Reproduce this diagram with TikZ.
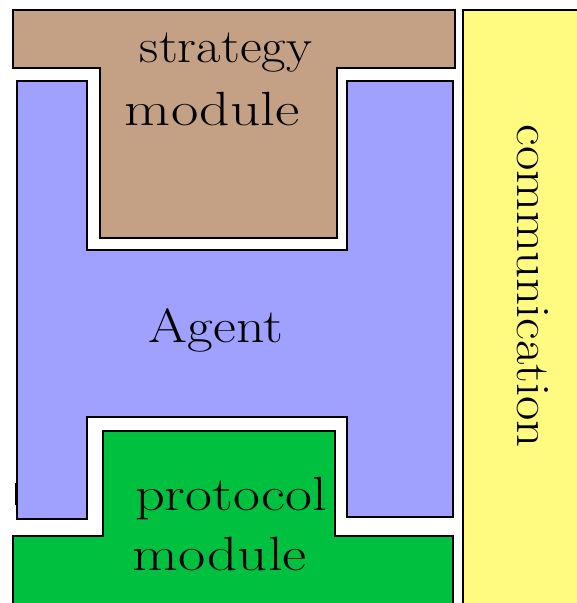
\documentclass[tikz,border=0pt]{standalone}
\usepackage{graphicx}
\definecolor{brownfill}{RGB}{196,160,132}
\definecolor{bluefill}{RGB}{160,160,255}
\definecolor{greenfill}{RGB}{0,192,64}
\definecolor{yellowfill}{RGB}{255,250,128}
\newcommand{\wword}[2]{\resizebox{#1pt}{\height}{#2}}
\begin{document}
\begin{tikzpicture}[x=1pt,y=-1pt,
  part/.style={draw=black,line width=1.4pt,line join=miter},
  lbl/.style={inner sep=0pt,anchor=base,font=\fontsize{48}{50}\selectfont}]
\useasboundingbox (0,0) rectangle (577,603);
% communication column
\fill[yellowfill] (463,10) rectangle (590,610);
\draw[line width=1.4pt] (463,610) -- (463,10) -- (590,10);
% strategy module
\draw[part,fill=brownfill] (13,10) -- (455,10) -- (455,68) -- (337,68) -- (337,238) -- (100,238) -- (100,68) -- (13,68) -- cycle;
% agent
\draw[part,fill=bluefill] (17,81) -- (87,81) -- (87,250) -- (347,250) -- (347,81) -- (453,81) -- (453,517) -- (347,517) -- (347,417) -- (87,417) -- (87,519) -- (17,519) -- cycle;
\draw[line width=2.5pt] (16,483) -- (16,505);
% protocol module
\draw[part,fill=greenfill] (103,431) -- (335,431) -- (335,536) -- (453,536) -- (453,615) -- (13,615) -- (13,536) -- (103,536) -- cycle;
% labels
\node[lbl] (strat) at (226,62) {\wword{172}{strategy}};
\node[lbl] (smod) at (212.5,125) {\wword{175}{module}};
\node[lbl] (agent) at (216,342) {\wword{134}{Agent}};
\node[lbl] (prot) at (231,510) {\wword{192}{protocol}};
\node[lbl] (pmod) at (220,570) {\wword{174}{module}};
\node[lbl,rotate=-90] (comm) at (517,286.5) {\wword{323}{communication}};
\end{tikzpicture}
\end{document}
